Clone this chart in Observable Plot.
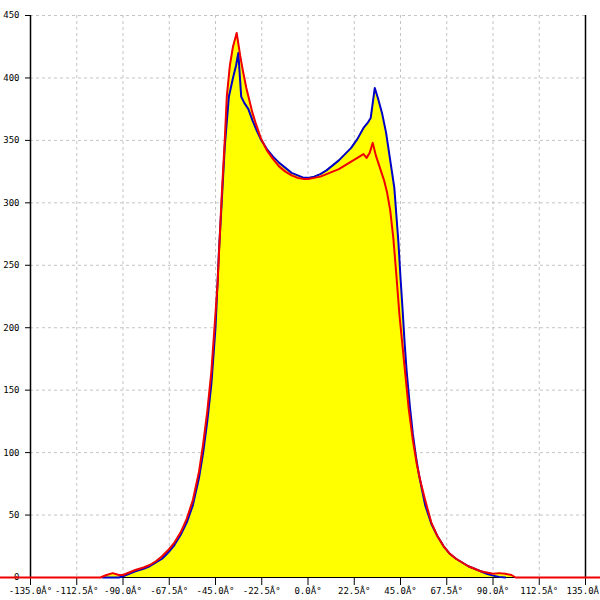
<!DOCTYPE html>
<html>
<head>
<meta charset="utf-8">
<script src="https://cdn.jsdelivr.net/npm/d3@7"></script>
<script src="https://cdn.jsdelivr.net/npm/@observablehq/plot@0.6"></script>
<style>
  html, body { margin: 0; padding: 0; background: #fff; }
  svg { overflow: hidden; }
</style>
</head>
<body>
<div id="chart"></div>
<script>
// Blue series (angle in degrees, value)
const blueX = [-100,-95,-92,-90,-87,-84,-80,-77,-74,-71,-68,-65,-62,-59,-56,-53,-51,-49,-47,-45,-43.3,-42,-40.5,-38.5,-36.5,-35,-33.9,-32.5,-31,-29,-27,-25,-23,-20,-17,-14,-11,-8,-5,-2,0,3,6,9,12,15,18,21,24,27,29,30.5,32.5,34,36,38,40,42,43,44,45,46,47,48,49.5,51,52.5,54,57,60,63,66,69,72,75,78,81,84,87,90,93,96];
const blueY = [0,0,0,1,3,5,7,9,12,15,20,26,34,44,58,80,100,125,155,200,262,300,345,385,400,410,420,385,380,375,366,358,351,343,337,332,328,324,322,320,320,321,323,326,330,334,339,344,351,360,364,368,392,384,372,356,334,312,290,268,240,215,188,165,138,115,97,82,58,43,33,25,19,15,12,9,7,5,3,1.5,0.5,0];
// Red series
const redX = [-150,-101,-98,-95,-92,-90,-87,-84,-80,-77,-74,-71,-68,-65,-62,-59,-56,-53,-51,-49,-47,-45.5,-44,-43,-42,-40.5,-39.5,-38,-36.5,-34.7,-33,-31.7,-30,-28.5,-27,-25.5,-23,-20,-17,-14,-11,-8,-5,-2,0,3,6,9,12,15,18,21,24,27,28.5,30,31.5,33,35,37,38.5,40,41.5,43,44.5,46,47.5,49,51,53,55,57,60,63,66,69,72,75,78,81,84,87,90,93,96,99,101,150];
const redY = [0,0,2,3.5,2,2,4,6,8,10,13,17,22,28,36,47,62,85,107,133,165,200,235,270,305,350,385,410,425,436,418,406,392,382,372,364,352,342,335,329,325,322,320,319,319,320,321,323,325,327,330,333,336,339,336,340,348,338,328,318,308,294,272,242,210,185,160,135,110,90,75,62,44,33,25,19,15,12,9,7,5,4,3,3.5,3,2,0,0];

// Axis ticks
const xTicks = [-135,-112.5,-90,-67.5,-45,-22.5,0,22.5,45,67.5,90,112.5,135];
const yTicks = [0,50,100,150,200,250,300,350,400,450];
const xDomain = [-135, 135];
const yDomain = [0, 450];

const blue = blueX.map((x, i) => ({x, y: blueY[i]}));
const red = redX.map((x, i) => ({x, y: redY[i]}));

const font = "'DejaVu Sans Mono', monospace";

const chart = Plot.plot({
  width: 600,
  height: 600,
  marginLeft: 30,
  marginRight: 15,
  marginTop: 15,
  marginBottom: 23,
  style: {fontFamily: font, fontSize: "9px", color: "#000", background: "#fff", overflow: "hidden"},
  x: {domain: xDomain, ticks: xTicks},
  y: {domain: yDomain, ticks: yTicks},
  marks: [
    Plot.gridY(yTicks.slice(1), {stroke: "#c4c4c4", strokeOpacity: 1, strokeDasharray: "3,3"}),
    Plot.gridX(xTicks.slice(1, -1), {stroke: "#c4c4c4", strokeOpacity: 1, strokeDasharray: "3,3"}),
    Plot.areaY(blue, {x: "x", y: "y", fill: "#ffff00", curve: "linear"}),
    Plot.areaY(red, {x: "x", y: "y", fill: "#ffff00", curve: "linear"}),
    Plot.axisY(yTicks, {tickSize: 5, tickPadding: 6, stroke: "#000", fill: "#000", fontSize: 9, label: null}),
    Plot.axisX(xTicks, {tickSize: 8, tickPadding: 2, stroke: "#000", fill: "#000", fontSize: 9, label: null,
      tickFormat: d => d.toFixed(1) + "Â°"}),
    Plot.ruleX(xDomain, {y1: yDomain[0], y2: yDomain[1], stroke: "#000", strokeWidth: 1.5}),
    Plot.ruleY([0], {stroke: "#000"}),
    Plot.line(blue, {x: "x", y: "y", stroke: "#0000c8", strokeWidth: 2}),
    Plot.line(red, {x: "x", y: "y", stroke: "#f00000", strokeWidth: 2})
  ]
});
document.getElementById("chart").appendChild(chart);
</script>
</body>
</html>
